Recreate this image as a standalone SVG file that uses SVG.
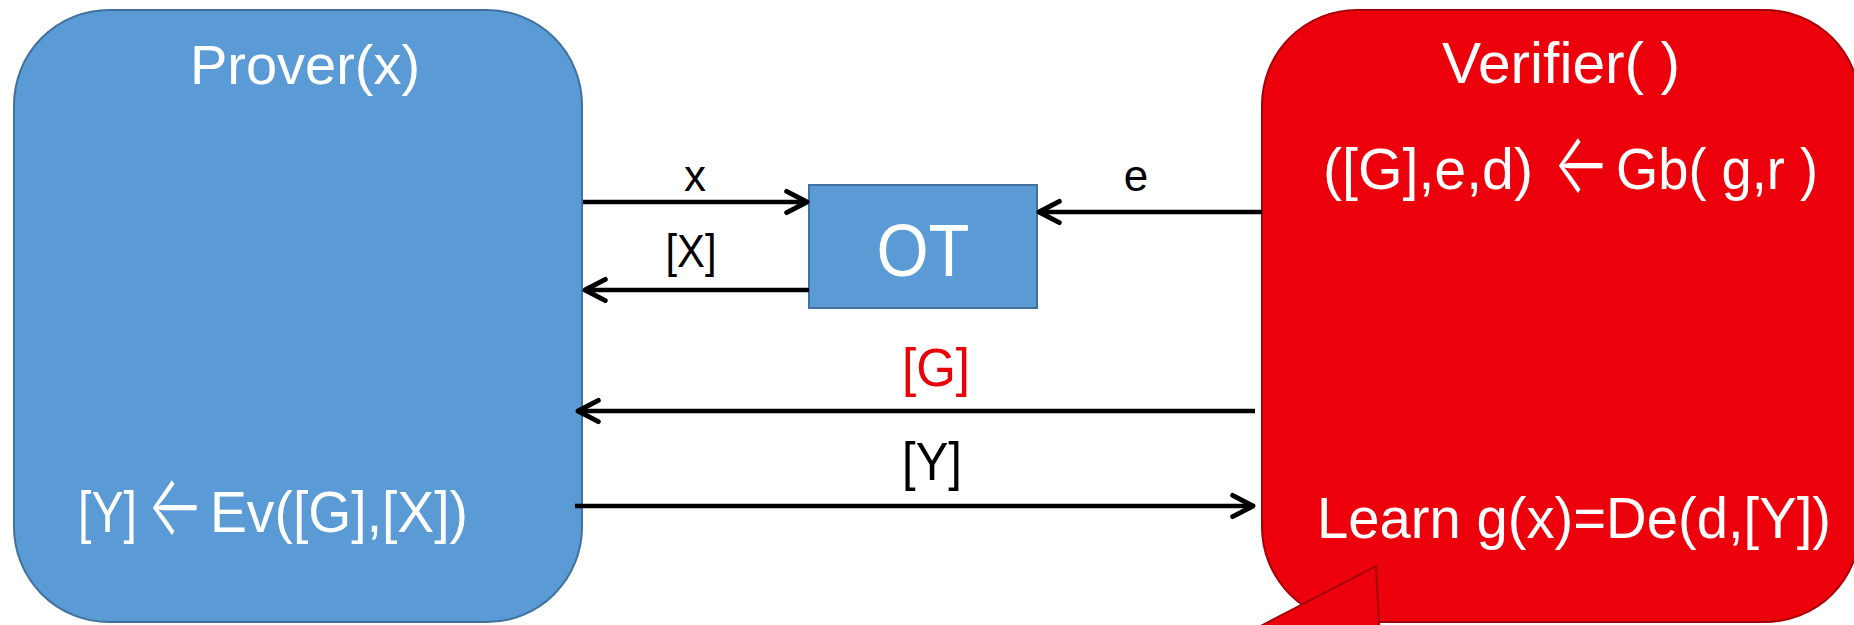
<svg xmlns="http://www.w3.org/2000/svg" width="1854" height="625" viewBox="0 0 1854 625">
<style>
.t{font-family:"Liberation Sans",Arial,sans-serif;text-anchor:middle}
.s{font-family:"Liberation Sans",Arial,sans-serif;text-anchor:start}
.a{font-family:Inter,"DejaVu Sans",sans-serif;font-weight:300;font-size:86px}
.w{fill:#fff}
.k{fill:#000}
.c{fill:none;stroke:#000;stroke-width:4.5}
</style>
<defs>
<marker id="arr" markerUnits="userSpaceOnUse" markerWidth="30" markerHeight="30" viewBox="-24 -14 28 28" refX="0" refY="0" orient="auto">
<path d="M-19,-10 L0,0 L-19,10" fill="none" stroke="#000" stroke-width="4.5" stroke-linecap="round" stroke-linejoin="round"/>
</marker>
</defs>
<rect width="1854" height="625" fill="#fff"/>
<g id="prover">
<rect x="14" y="10" width="568" height="612" rx="95" ry="95" fill="#5B9BD5" stroke="#41719C" stroke-width="2"/>
<text class="t w" x="305" y="84" font-size="56">Prover(x)</text>
<text class="s w" y="532" font-size="57"><tspan x="78" textLength="59" lengthAdjust="spacingAndGlyphs">[Y]</tspan><tspan class="a" x="147" y="535" textLength="57" lengthAdjust="spacingAndGlyphs">←</tspan><tspan x="210" y="532" textLength="258" lengthAdjust="spacingAndGlyphs">Ev([G],[X])</tspan></text>
</g>
<g id="verifier">
<rect x="1262" y="10" width="598" height="612" rx="95" ry="95" fill="#EC000C" stroke="#A80008" stroke-width="2"/>
<text class="t w" x="1561" y="83" font-size="57" textLength="238" lengthAdjust="spacingAndGlyphs">Verifier( )</text>
<text class="s w" y="189" font-size="57"><tspan x="1323" textLength="210" lengthAdjust="spacingAndGlyphs">([G],e,d)</tspan><tspan class="a" x="1553" y="193" textLength="57" lengthAdjust="spacingAndGlyphs">←</tspan><tspan x="1616" y="189" textLength="202" lengthAdjust="spacingAndGlyphs">Gb( g,r )</tspan></text>
<text class="t w" x="1574" y="538" font-size="57" textLength="514" lengthAdjust="spacingAndGlyphs">Learn g(x)=De(d,[Y])</text>
<path d="M1230,642 L1376,566 L1380,642 Z" fill="#EC000C"/>
<path d="M1230,642 L1376,566 L1380,642" fill="none" stroke="#A80008" stroke-width="2"/>
</g>
<g id="ot">
<rect x="809" y="185" width="228" height="123" fill="#5B9BD5" stroke="#41719C" stroke-width="2"/>
<text class="t w" x="923" y="276" font-size="74" textLength="93" lengthAdjust="spacingAndGlyphs">OT</text>
</g>
<g id="connectors">
<path class="c" d="M583,202 L807,202" marker-end="url(#arr)"/>
<path class="c" d="M809,290 L585,290" marker-end="url(#arr)"/>
<path class="c" d="M1262,212 L1039,212" marker-end="url(#arr)"/>
<path class="c" d="M1255,411 L578,411" marker-end="url(#arr)"/>
<path class="c" d="M575,506 L1253,506" marker-end="url(#arr)"/>
<text class="t k" x="695" y="191" font-size="44">x</text>
<text class="t k" x="691" y="267" font-size="46" textLength="51" lengthAdjust="spacingAndGlyphs">[X]</text>
<text class="t k" x="1136" y="191" font-size="44">e</text>
<text class="t" x="936" y="386" font-size="54" fill="#E8000B" textLength="68" lengthAdjust="spacingAndGlyphs">[G]</text>
<text class="t k" x="932" y="480" font-size="54" textLength="60" lengthAdjust="spacingAndGlyphs">[Y]</text>
</g>
</svg>
